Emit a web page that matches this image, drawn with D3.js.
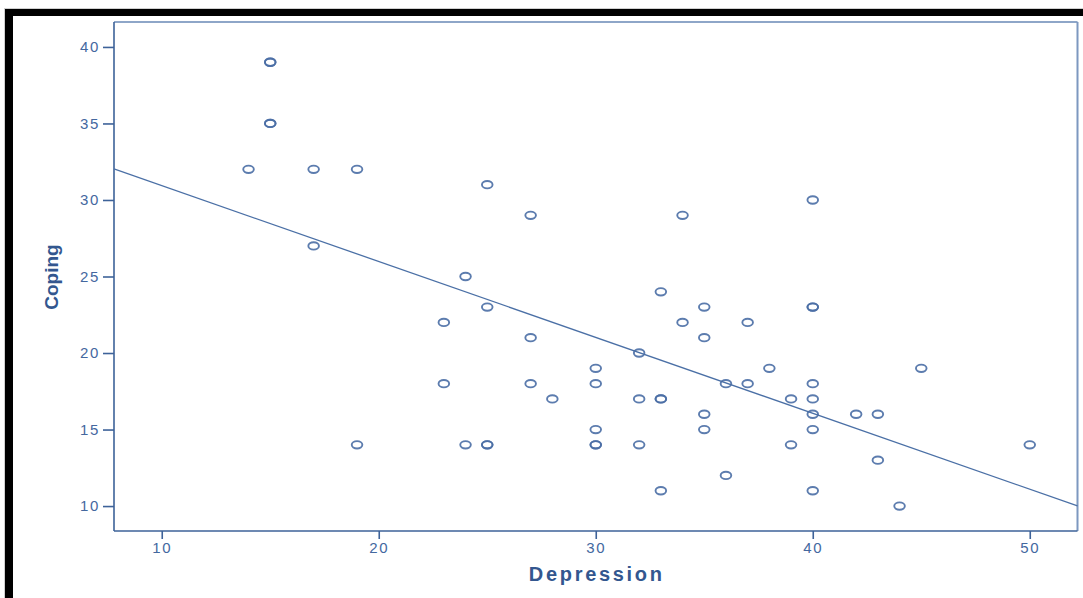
<!DOCTYPE html>
<html>
<head>
<meta charset="utf-8">
<script src="https://cdnjs.cloudflare.com/ajax/libs/d3/7.8.5/d3.min.js"></script>
<style>
  html, body { margin: 0; padding: 0; background: #fff; }
  svg { display: block; }
</style>
</head>
<body>
<svg id="chart" width="1083" height="598"></svg>
<script>
// Depression score per respondent
const depression = [
  15, 15, 15, 15, 14, 17, 19, 17, 25, 27, 34, 40,
  24, 33, 23, 25, 35, 40, 40, 27, 34, 37, 35, 32,
  30, 38, 45, 23, 27, 30, 36, 37, 40, 28, 32, 33, 33, 39, 40,
  35, 40, 42, 43, 30, 35, 40, 19, 24, 25, 25, 30, 30, 32, 39, 50,
  43, 36, 33, 40, 44
];
// Coping score per respondent (same order)
const coping = [
  39, 39, 35, 35, 32, 32, 32, 27, 31, 29, 29, 30,
  25, 24, 22, 23, 23, 23, 23, 21, 22, 22, 21, 20,
  19, 19, 19, 18, 18, 18, 18, 18, 18, 17, 17, 17, 17, 17, 17,
  16, 16, 16, 16, 15, 15, 15, 14, 14, 14, 14, 14, 14, 14, 14, 14,
  13, 12, 11, 11, 10
];
// Fit line: Coping = intercept + slope * Depression
const fitIntercept = [35.9];
const fitSlope = [-0.496];

const xTicks = [10, 20, 30, 40, 50];
const yTicks = [10, 15, 20, 25, 30, 35, 40];

const svg = d3.select("#chart");
const W = 1083, H = 598;
const plot = { left: 114, right: 1077.5, top: 22, bottom: 531 };

const axisColor = "#3d6299";
const textColor = "#44689f";
const markColor = "#4a6ea5";

// outer frame
svg.append("rect").attr("x", 0).attr("y", 0).attr("width", W).attr("height", H).attr("fill", "#fff");
svg.append("rect").attr("x", 4.5).attr("y", 8.5).attr("width", W).attr("height", H)
  .attr("fill", "none").attr("stroke", "#d0d0d0").attr("stroke-width", 1);
svg.append("rect").attr("x", 5).attr("y", 9).attr("width", W - 5).attr("height", 7).attr("fill", "#000");
svg.append("rect").attr("x", 5).attr("y", 9).attr("width", 8).attr("height", H - 9).attr("fill", "#000");

const x = d3.scaleLinear().domain([7.8, 52.2]).range([plot.left, plot.right]);
const y = d3.scaleLinear().domain([8.37, 41.63]).range([plot.bottom, plot.top]);

// top and right frame lines
svg.append("line").attr("x1", plot.left).attr("x2", plot.right).attr("y1", plot.top).attr("y2", plot.top)
  .attr("stroke", "#8ea6c8").attr("stroke-width", 2);
svg.append("line").attr("x1", plot.right).attr("x2", plot.right).attr("y1", plot.top).attr("y2", plot.bottom)
  .attr("stroke", "#7d98c0").attr("stroke-width", 2);

// axes
const xAxis = d3.axisBottom(x).tickValues(xTicks).tickSize(8).tickPadding(3).tickSizeOuter(0);
const yAxis = d3.axisLeft(y).tickValues(yTicks).tickSize(11).tickPadding(3).tickSizeOuter(0);

const gx = svg.append("g").attr("transform", `translate(0,${plot.bottom})`).call(xAxis);
const gy = svg.append("g").attr("transform", `translate(${plot.left},0)`).call(yAxis);

[gx, gy].forEach(g => {
  g.select(".domain").attr("stroke", axisColor).attr("stroke-width", 1.6);
  g.selectAll(".tick line").attr("stroke", axisColor).attr("stroke-width", 1.6);
  g.selectAll(".tick text")
    .attr("fill", textColor)
    .style("font-family", "'Liberation Sans', Arial, sans-serif")
    .style("font-size", "15px")
    .style("letter-spacing", "1.6px");
});
gx.select(".domain").attr("d", `M${plot.left},0H${plot.right}`);
gy.select(".domain").attr("d", `M0,${plot.top}V${plot.bottom}`);

// fit line across the plotting range
const [x0, x1] = x.domain();
const fitPts = [x0, x1].map(v => ({ xv: v, yv: fitIntercept[0] + fitSlope[0] * v }));
svg.append("path")
  .datum(fitPts)
  .attr("fill", "none")
  .attr("stroke", "#4b70a6")
  .attr("stroke-width", 1.3)
  .attr("d", d3.line().x(d => x(d.xv)).y(d => y(d.yv)));

// respondents
svg.append("g")
  .selectAll("ellipse")
  .data(depression.map((d, i) => ({ d, c: coping[i] })))
  .join("ellipse")
  .attr("cx", p => x(p.d))
  .attr("cy", p => y(p.c))
  .attr("rx", 5.3)
  .attr("ry", 3.7)
  .attr("fill", "none")
  .attr("stroke", markColor)
  .attr("stroke-opacity", 0.9)
  .attr("stroke-width", 1.9);

// axis titles
svg.append("text")
  .attr("x", (plot.left + plot.right) / 2 + 1)
  .attr("y", 581)
  .attr("text-anchor", "middle")
  .attr("fill", "#33578f")
  .style("font-family", "'Liberation Sans', Arial, sans-serif")
  .style("font-weight", "bold")
  .style("font-size", "20px")
  .style("letter-spacing", "2.7px")
  .text("Depression");

svg.append("text")
  .attr("transform", `translate(58,${277}) rotate(-90)`)
  .attr("text-anchor", "middle")
  .attr("fill", "#33578f")
  .style("font-family", "'Liberation Sans Narrow', 'Liberation Sans', Arial, sans-serif")
  .style("font-weight", "bold")
  .style("font-size", "19px")
  .text("Coping");
</script>
</body>
</html>
